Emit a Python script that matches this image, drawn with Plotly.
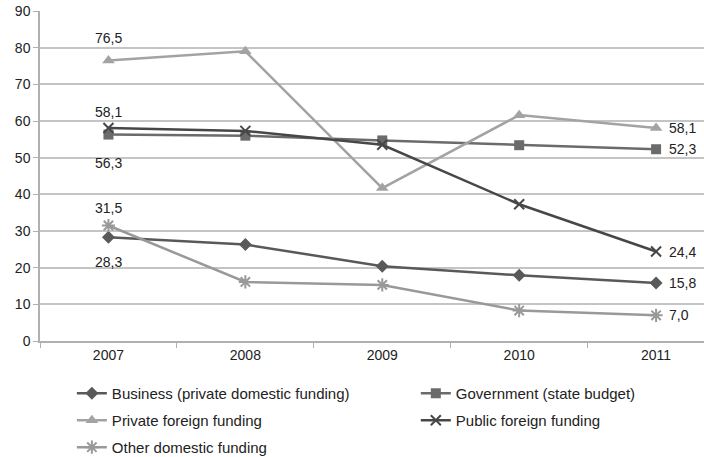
import plotly.graph_objects as go

years = ["2007", "2008", "2009", "2010", "2011"]

business = [28.3, 26.3, 20.4, 17.9, 15.8]
government = [56.3, 56.0, 54.7, 53.4, 52.3]
private_foreign = [76.5, 79.0, 41.7, 61.6, 58.1]
public_foreign = [58.1, 57.3, 53.5, 37.3, 24.4]
other_domestic = [31.5, 16.1, 15.3, 8.3, 7.0]

# name, values, colour, marker, size, marker outline width, legend column
series = [
    ("Business (private domestic funding)", business, "#595959", "diamond", 10, 0, "legend"),
    ("Government (state budget)", government, "#6b6b6b", "square", 10, 0, "legend2"),
    ("Private foreign funding", private_foreign, "#a3a3a3", "triangle-up", 11, 0, "legend"),
    ("Public foreign funding", public_foreign, "#474747", "x-thin-open", 10, 2, "legend2"),
    ("Other domestic funding", other_domestic, "#999999", "asterisk-open", 11, 2, "legend"),
]

FONT = "Liberation Sans, Arial, sans-serif"

fig = go.Figure()
for i, (name, vals, color, sym, size, lw, leg) in enumerate(series):
    marker = dict(symbol=sym, size=size, color=color)
    if lw:
        marker["line"] = dict(color=color, width=lw)
    fig.add_trace(go.Scatter(
        x=years, y=vals, name=name, mode="lines+markers",
        line=dict(color=color, width=2.5), marker=marker,
        legend=leg, legendgroup=f"g{i}",
    ))


def fmt(v):
    return f"{v:.1f}".replace(".", ",")


first = 0
last = len(years) - 1

# value labels on the first year (shifted above/below the point)
first_labels = [
    (private_foreign, 23),
    (public_foreign, 16),
    (government, -28),
    (other_domestic, 18),
    (business, -25),
]
for vals, dy in first_labels:
    fig.add_annotation(x=first, y=vals[first], text=fmt(vals[first]), showarrow=False,
                       yshift=dy, font=dict(family=FONT, size=14, color="#222"))

# value labels to the right of the last year
for vals in [private_foreign, government, public_foreign, business, other_domestic]:
    fig.add_annotation(x=last, y=vals[last], text=fmt(vals[last]), showarrow=False,
                       xanchor="left", xshift=11,
                       font=dict(family=FONT, size=14, color="#222"))

legend_style = dict(
    orientation="v", yanchor="top", xanchor="left",
    font=dict(family=FONT, size=15, color="#222"),
    itemwidth=30, tracegroupgap=4.5, bgcolor="rgba(0,0,0,0)",
)

fig.update_layout(
    width=704, height=457,
    margin=dict(l=40, r=0, t=11, b=116, autoexpand=False),
    plot_bgcolor="white", paper_bgcolor="white",
    font=dict(family=FONT, size=14, color="#222"),
    xaxis=dict(
        type="category", range=[-0.5, 4.35],
        showline=True, linecolor="#b0b0b0", linewidth=1.5,
        ticks="outside", tickson="boundaries", ticklen=5, tickcolor="#b0b0b0",
        showgrid=False, tickfont=dict(size=14),
    ),
    yaxis=dict(
        range=[0, 90], dtick=10,
        showline=True, linecolor="#b0b0b0", linewidth=1.5,
        ticks="outside", ticklen=5, tickcolor="#b0b0b0",
        gridcolor="#c4c4c4", gridwidth=1.5, zeroline=False,
        tickfont=dict(size=14),
    ),
    legend=dict(x=0.048, y=-0.109, **legend_style),
    legend2=dict(x=0.566, y=-0.109, **legend_style),
)

fig.write_html("out.html")
